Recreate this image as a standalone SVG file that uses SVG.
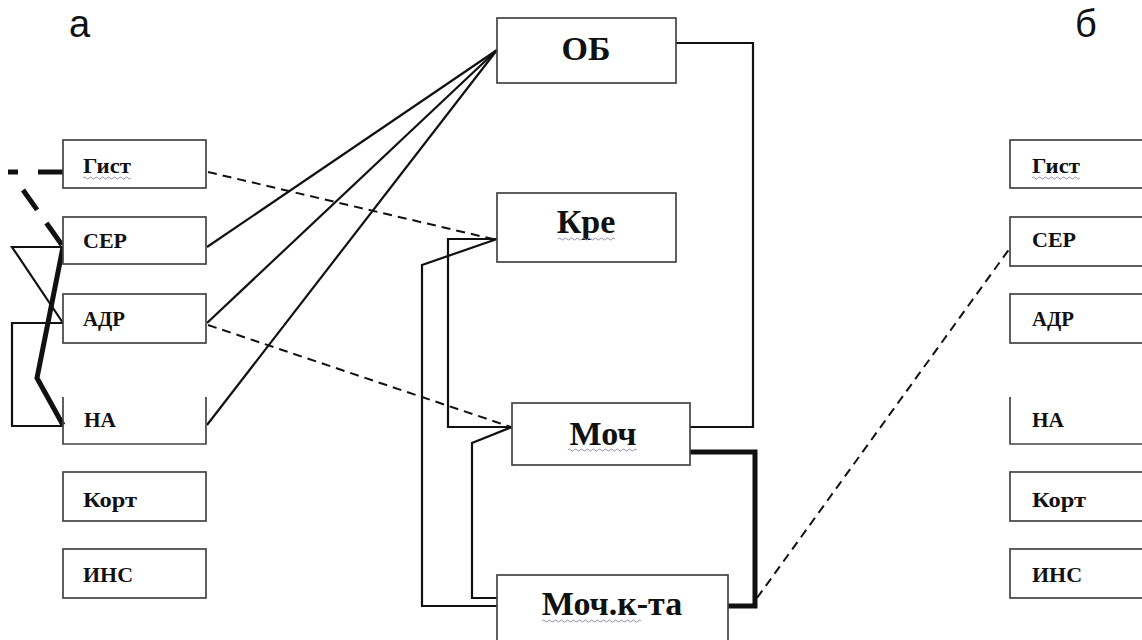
<svg xmlns="http://www.w3.org/2000/svg" width="1142" height="640" viewBox="0 0 1142 640">
<style>
.box{fill:#fff;stroke:#444;stroke-width:1.7}
.open{fill:none;stroke:#444;stroke-width:1.7}
.sm{font-family:"Liberation Serif","Times New Roman",serif;font-weight:bold;font-size:20px;fill:#111}
.lg{font-family:"Liberation Serif","Times New Roman",serif;font-weight:bold;font-size:34px;fill:#111;text-anchor:middle}
.lt{font-family:"Liberation Sans",Arial,sans-serif;font-size:38px;fill:#111}
.ln{fill:none;stroke:#111;stroke-width:2.2;stroke-linejoin:miter}
.dash{fill:none;stroke:#111;stroke-width:2;stroke-dasharray:9 6}
.thick{fill:none;stroke:#111;stroke-width:5}
.thickdash{fill:none;stroke:#111;stroke-width:5;stroke-dasharray:25 20}
.wave{fill:none;stroke:#8d93a8;stroke-width:1}
</style>
<rect width="1142" height="640" fill="#fff"/>
<text class="lt" x="69" y="37">а</text>
<text class="lt" x="1075" y="37">б</text>

<g id="connectors">
<path class="thickdash" d="M63,172 L8,172"/>
<path class="thickdash" d="M62,245 L23,190" style="stroke-dasharray:27 16"/>
<path class="thick" d="M63,247 L37,378 L63,425"/>
<path class="ln" d="M63,247 L12,247 L63,323"/>
<path class="ln" d="M63,323 L12,323 L12,426 L63,426"/>
<path class="ln" d="M207,247 L497,50"/>
<path class="ln" d="M207,323 L497,50"/>
<path class="ln" d="M207,425 L497,50"/>
<path class="dash" d="M208,172 L497,240"/>
<path class="dash" d="M208,325 L511,427"/>
<path class="ln" d="M676,43 L753,43 L753,427 L690,427"/>
<path class="ln" d="M497,239 L448,239 L448,427 L512,427"/>
<path class="ln" d="M497,606 L422,606 L422,265 L497,239"/>
<path class="ln" d="M497,598 L472,598 L472,443 L512,427"/>
<path class="thick" d="M690,452 L755,452 L755,606 L728,606"/>
<path class="dash" d="M757,598 L1010,248"/>
</g>

<g id="a-gist"><rect class="box" x="63" y="140" width="143" height="48"/><text class="sm" x="83" y="173" textLength="48" lengthAdjust="spacingAndGlyphs">Гист</text><path class="wave" d="M83,178 q1.5,-2 3,0 t3,0 t3,0 t3,0 t3,0 t3,0 t3,0 t3,0 t3,0 t3,0 t3,0 t3,0 t3,0 t3,0 t3,0 t3,0"/></g>
<g id="a-ser"><rect class="box" x="63" y="217" width="143" height="47"/><text class="sm" x="83" y="248" textLength="44" lengthAdjust="spacingAndGlyphs">СЕР</text></g>
<g id="a-adr"><rect class="box" x="63" y="294" width="143" height="49"/><text class="sm" x="83" y="326" textLength="42" lengthAdjust="spacingAndGlyphs">АДР</text></g>
<g id="a-na"><path class="open" d="M63,397 L63,444 L206,444 L206,397"/><text class="sm" x="84" y="427" textLength="32" lengthAdjust="spacingAndGlyphs">НА</text></g>
<g id="a-kort"><rect class="box" x="63" y="472" width="143" height="49"/><text class="sm" x="83" y="507" textLength="54" lengthAdjust="spacingAndGlyphs">Корт</text></g>
<g id="a-ins"><rect class="box" x="63" y="549" width="143" height="49"/><text class="sm" x="83" y="582" textLength="50" lengthAdjust="spacingAndGlyphs">ИНС</text></g>

<g id="ob"><rect class="box" x="497" y="18" width="179" height="65"/><text class="lg" x="586" y="60">ОБ</text></g>
<g id="kre"><rect class="box" x="497" y="193" width="179" height="69"/><text class="lg" x="586" y="233">Кре</text><path class="wave" d="M558,239 q1.5,-2 3,0 t3,0 t3,0 t3,0 t3,0 t3,0 t3,0 t3,0 t3,0 t3,0 t3,0 t3,0 t3,0 t3,0 t3,0 t3,0 t3,0 t3,0 t3,0"/></g>
<g id="moch"><rect class="box" x="512" y="403" width="178" height="62"/><text class="lg" x="603" y="445">Моч</text><path class="wave" d="M568,450 q1.5,-2 3,0 t3,0 t3,0 t3,0 t3,0 t3,0 t3,0 t3,0 t3,0 t3,0 t3,0 t3,0 t3,0 t3,0 t3,0 t3,0 t3,0 t3,0 t3,0 t3,0 t3,0 t3,0 t3,0"/></g>
<g id="moch-kta"><rect class="box" x="497" y="575" width="231" height="80"/><text class="lg" x="612" y="615">Моч.к-та</text><path class="wave" d="M542,621 q1.5,-2 3,0 t3,0 t3,0 t3,0 t3,0 t3,0 t3,0 t3,0 t3,0 t3,0 t3,0 t3,0 t3,0 t3,0 t3,0 t3,0 t3,0 t3,0 t3,0 t3,0 t3,0 t3,0 t3,0 t3,0 t3,0 t3,0 t3,0 t3,0 t3,0 t3,0 t3,0 t3,0 t3,0"/></g>

<g id="b-gist"><rect class="box" x="1010" y="140" width="150" height="48"/><text class="sm" x="1032" y="173" textLength="48" lengthAdjust="spacingAndGlyphs">Гист</text><path class="wave" d="M1032,178 q1.5,-2 3,0 t3,0 t3,0 t3,0 t3,0 t3,0 t3,0 t3,0 t3,0 t3,0 t3,0 t3,0 t3,0 t3,0 t3,0 t3,0"/></g>
<g id="b-ser"><rect class="box" x="1010" y="217" width="150" height="49"/><text class="sm" x="1032" y="247" textLength="44" lengthAdjust="spacingAndGlyphs">СЕР</text></g>
<g id="b-adr"><rect class="box" x="1010" y="294" width="150" height="49"/><text class="sm" x="1032" y="326" textLength="42" lengthAdjust="spacingAndGlyphs">АДР</text></g>
<g id="b-na"><path class="open" d="M1010,397 L1010,444 L1160,444"/><text class="sm" x="1032" y="427" textLength="32" lengthAdjust="spacingAndGlyphs">НА</text></g>
<g id="b-kort"><rect class="box" x="1010" y="472" width="150" height="49"/><text class="sm" x="1032" y="507" textLength="54" lengthAdjust="spacingAndGlyphs">Корт</text></g>
<g id="b-ins"><rect class="box" x="1010" y="549" width="150" height="49"/><text class="sm" x="1032" y="582" textLength="50" lengthAdjust="spacingAndGlyphs">ИНС</text></g>
</svg>
